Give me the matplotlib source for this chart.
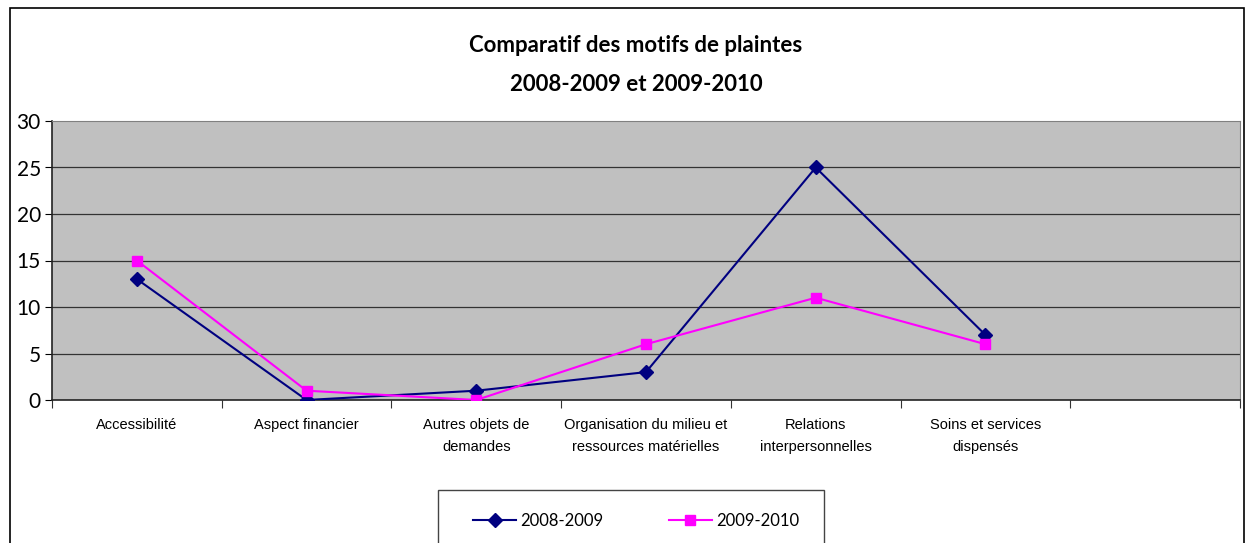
import matplotlib
matplotlib.use("Agg")
import matplotlib.pyplot as plt
from matplotlib.patches import Rectangle
import numpy as np

categories = [
    "Accessibilité",
    "Aspect financier",
    "Autres objets de\ndemandes",
    "Organisation du milieu et\nressources matérielles",
    "Relations\ninterpersonnelles",
    "Soins et services\ndispensés",
]
serie_2008 = [13, 0, 1, 3, 25, 7]
serie_2009 = [15, 1, 0, 6, 11, 6]
yticks = [0, 5, 10, 15, 20, 25, 30]

W, H = 1246, 543
fig = plt.figure(figsize=(W / 100, H / 100), dpi=100)
ax = fig.add_axes([52 / W, 1 - 400 / H, (1240 - 52) / W, (400 - 121) / H])

narrow = ["Liberation Sans", "DejaVu Sans"]
calib = ["Lato", "DejaVu Sans"]

x = np.arange(len(categories))
ax.set_facecolor("#c0c0c0")
ax.plot(x, serie_2008, color="#000080", marker="D", markersize=7, lw=1.5, label="2008-2009", zorder=3)
ax.plot(x, serie_2009, color="#ff00ff", marker="s", markersize=7, lw=1.5, label="2009-2010", zorder=3)

ax.set_xlim(-0.5, 6.5)
ax.set_ylim(0, 30)
ax.set_yticks(yticks)
ax.set_yticklabels([str(v) for v in yticks], family=calib, fontsize=15)
for v in yticks[1:-1]:
    ax.axhline(v, color="#333333", lw=0.9, zorder=1)

# category boundaries as ticks, labels at centers
ax.set_xticks(np.arange(-0.5, 7.0, 1.0))
ax.set_xticklabels([])
ax.set_xticks(x, minor=True)
ax.set_xticklabels(categories, minor=True, family=narrow, fontsize=10.5, linespacing=1.75)
ax.tick_params(axis="x", which="minor", length=0, pad=13)
ax.tick_params(axis="x", which="major", length=6, direction="out", color="#333333")
ax.tick_params(axis="y", length=5, direction="out", pad=3)

for s in ["left", "bottom"]:
    ax.spines[s].set_color("#222222")
    ax.spines[s].set_linewidth(1.2)
for s in ["top", "right"]:
    ax.spines[s].set_color("#808080")

fig.text(636 / W, 1 - 45 / H, "Comparatif des motifs de plaintes", ha="center", va="center",
         family=calib, fontsize=16, fontweight="bold")
fig.text(636 / W, 1 - 85 / H, "2008-2009 et 2009-2010", ha="center", va="center",
         family=calib, fontsize=16, fontweight="bold")

# outer chart border
fig.patches.append(Rectangle((10 / W, -0.1), (1244 - 10) / W, 1 - 8 / H + 0.1,
                             transform=fig.transFigure, fill=False, edgecolor="black", lw=1.2))

# legend box (runs off the bottom of the image)
fig.patches.append(Rectangle((438 / W, -0.1), (824 - 438) / W, 1 - 490 / H + 0.1,
                             transform=fig.transFigure, fill=False, edgecolor="#444444", lw=1.0))
leg = fig.legend(loc="center left", bbox_to_anchor=(473 / W, 1 - 521 / H),
                 ncol=2, frameon=False, prop={"family": calib, "size": 12},
                 handlelength=2.6, handletextpad=0.25, columnspacing=3.9,
                 borderpad=0, borderaxespad=0)

fig.savefig("out.png", dpi=100)
